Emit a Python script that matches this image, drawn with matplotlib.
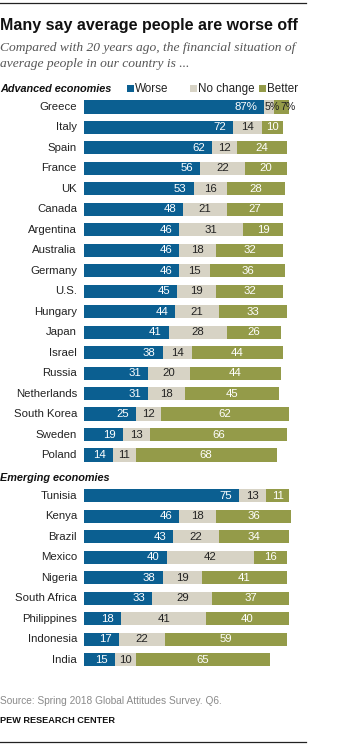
import matplotlib
matplotlib.use("Agg")
import matplotlib.pyplot as plt
from matplotlib.lines import Line2D
from matplotlib.patches import Rectangle

advanced = ["Greece", "Italy", "Spain", "France", "UK", "Canada", "Argentina", "Australia",
            "Germany", "U.S.", "Hungary", "Japan", "Israel", "Russia", "Netherlands",
            "South Korea", "Sweden", "Poland"]
adv_worse = [87, 72, 62, 56, 53, 48, 46, 46, 46, 45, 44, 41, 38, 31, 31, 25, 19, 14]
adv_same = [5, 14, 12, 22, 16, 21, 31, 18, 15, 19, 21, 28, 14, 20, 18, 12, 13, 11]
adv_better = [7, 10, 24, 20, 28, 27, 19, 32, 36, 32, 33, 26, 44, 44, 45, 62, 66, 68]

emerging = ["Tunisia", "Kenya", "Brazil", "Mexico", "Nigeria", "South Africa",
            "Philippines", "Indonesia", "India"]
em_worse = [75, 46, 43, 40, 38, 33, 18, 17, 15]
em_same = [13, 18, 22, 42, 19, 29, 41, 22, 10]
em_better = [11, 36, 34, 16, 41, 37, 40, 59, 65]

legend_labels = ["Worse", "No change", "Better"]

C_WORSE = "#0B5F91"
C_SAME = "#D7D3C5"
C_BETTER = "#949B49"
TXT = "#222222"

W, H = 352, 744
fig = plt.figure(figsize=(W / 100, H / 100), dpi=100)
FONT = "Liberation Sans"


def fx(x):
    return x / W


def fy(y):
    return 1 - y / H


# axes: row i centre at pixel 107 + 20.47*i ; x: 0 at 84px, 2.07 px/unit
row_h = 20.47
y_top = 107 - row_h / 2
y_bot = 107 + 27 * row_h + row_h / 2
ax = fig.add_axes([fx(84), fy(y_bot), 207 / W, (y_bot - y_top) / H])
ax.set_xlim(0, 100)
ax.set_ylim(27.5, -0.5)
ax.axis("off")

names = advanced + emerging
worse = adv_worse + em_worse
same = adv_same + em_same
better = adv_better + em_better
rows = list(range(len(advanced))) + [len(advanced) + 1 + i for i in range(len(emerging))]

bh = 0.64
ax.barh(rows, worse, height=bh, color=C_WORSE, linewidth=0)
ax.barh(rows, same, left=worse, height=bh, color=C_SAME, linewidth=0)
lefts_b = [w + s for w, s in zip(worse, same)]
ax.barh(rows, better, left=lefts_b, height=bh, color=C_BETTER, linewidth=0)

fs = 8.2
for k, (r, n, w, s, b) in enumerate(zip(rows, names, worse, same, better)):
    ax.text(-3.4, r, n, ha="right", va="center", fontsize=fs, color=TXT, family=FONT)
    pct = "%" if k == 0 else ""
    ax.text(w - 3.4, r, f"{w}{pct}", ha="right", va="center", fontsize=fs,
            color="white", family=FONT)
    if k == 0:
        ax.text(w + 0.1, r, f"{s}{pct}", ha="left", va="center", fontsize=7.6,
                color=TXT, family=FONT)
        ax.text(w + s + 3.0, r, f"{b}{pct}", ha="left", va="center", fontsize=7.6,
                color=TXT, family=FONT)
    else:
        ax.text(w + s / 2, r, f"{s}", ha="center", va="center", fontsize=fs,
                color=TXT, family=FONT)
        ax.text(w + s + b / 2, r, f"{b}", ha="center", va="center", fontsize=fs,
                color="white", family=FONT)

# title and subtitle
fig.text(fx(0), fy(30), "Many say average people are worse off", fontsize=11.5,
         fontweight="bold", family=FONT, color="#111111", va="baseline", ha="left")
fig.text(fx(0), fy(51.5), "Compared with 20 years ago, the financial situation of",
         fontsize=9.7, style="italic", family="Liberation Serif", color="#555555",
         va="baseline", ha="left")
fig.text(fx(0), fy(67), "average people in our country is ...",
         fontsize=9.7, style="italic", family="Liberation Serif", color="#555555",
         va="baseline", ha="left")

# section headers
fig.text(fx(0), fy(91.7), "Advanced economies", fontsize=7.8, fontweight="bold",
         style="italic", family=FONT, color="#111111", va="baseline")
fig.text(fx(0), fy(481), "Emerging economies", fontsize=7.8, fontweight="bold",
         style="italic", family=FONT, color="#111111", va="baseline")

# legend
leg_x = [127, 190, 259]
for lx, lab, c in zip(leg_x, legend_labels, [C_WORSE, C_SAME, C_BETTER]):
    fig.patches.append(Rectangle((fx(lx), fy(92)), 6.5 / W, 7 / H, transform=fig.transFigure,
                                 facecolor=c, edgecolor="none"))
    fig.text(fx(lx + 7.5), fy(91.7), lab, fontsize=8.4, family=FONT, color=TXT,
             va="baseline")

# source
fig.text(fx(0), fy(704), "Source: Spring 2018 Global Attitudes Survey. Q6.", fontsize=7.3,
         family=FONT, color="#8a8a8a", va="baseline")
fig.text(fx(0), fy(723), "PEW RESEARCH CENTER", fontsize=6.6, fontweight="bold",
         family=FONT, color="#111111", va="baseline")

# top and bottom rules
fig.add_artist(Line2D([0, fx(306)], [fy(3), fy(3)], color="#222222", linewidth=0.9))
fig.add_artist(Line2D([0, fx(306)], [fy(742), fy(742)], color="#222222", linewidth=0.9))

fig.savefig("out.png", dpi=100, facecolor="white")
